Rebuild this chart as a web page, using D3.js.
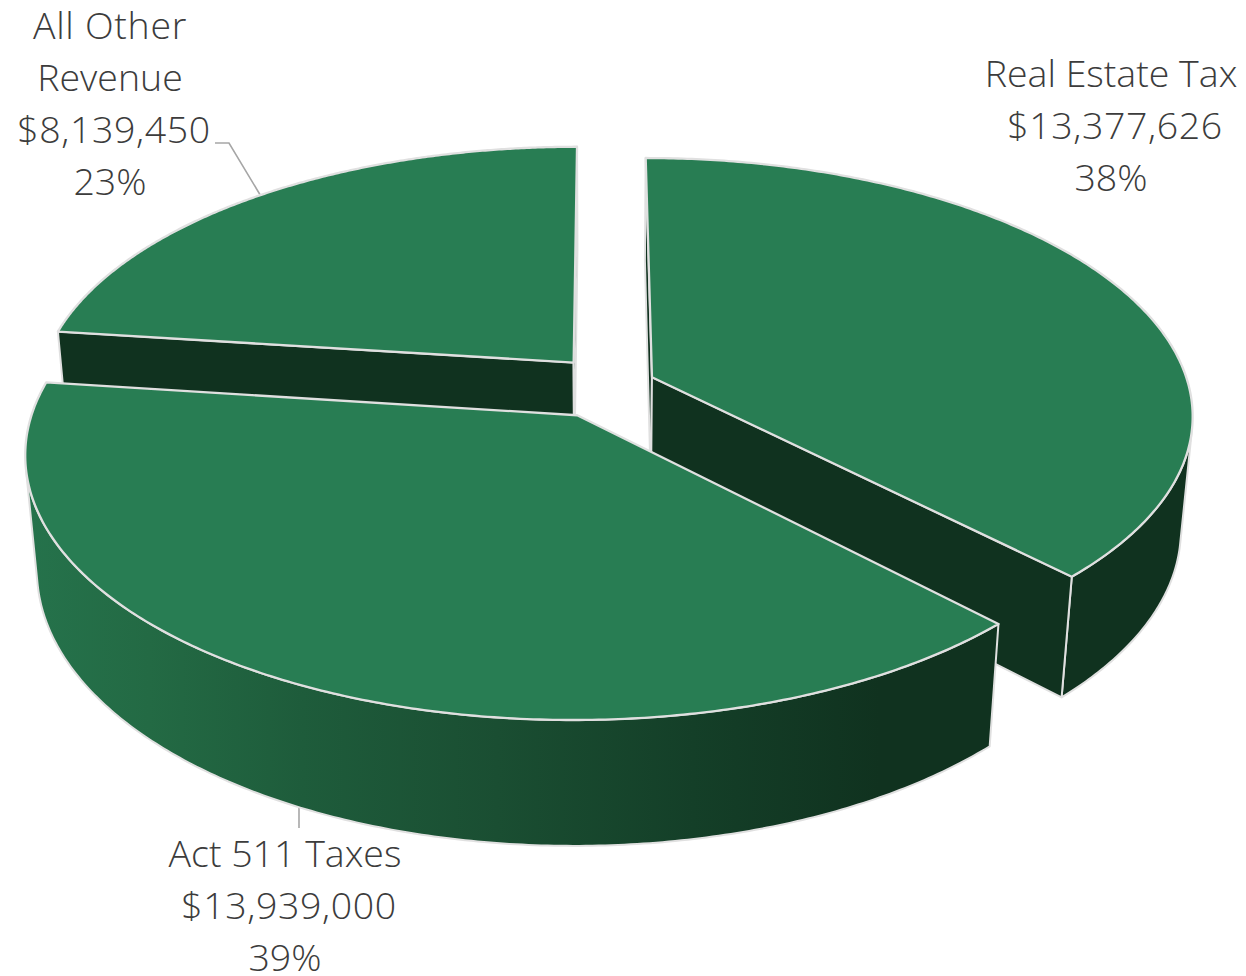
<!DOCTYPE html>
<html>
<head>
<meta charset="utf-8">
<style>
  html, body { margin: 0; padding: 0; background: #fff; }
  svg { display: block; }
  text { font-family: "Open Sans", sans-serif; font-weight: 300; font-size: 37.5px; fill: #3c3c3c; }
</style>
<script src="https://cdn.jsdelivr.net/npm/d3@7/dist/d3.min.js"></script>
</head>
<body>
<svg id="chart" width="1246" height="976"></svg>
<script>
// Revenue sources, clockwise from twelve o'clock.
const categories = ["Real Estate Tax", "Act 511 Taxes", "All Other Revenue"];
const labelLines = [["Real Estate Tax"], ["Act 511 Taxes"], ["All Other", "Revenue"]];
const revenue = [13377626, 13939000, 8139450];

// How far each slice is pulled out of the pie, in pie-radius units (x right, y away from viewer).
const explodeX = [0.095, -0.044, -0.052];
const explodeY = [0.043, -0.106, 0.102];

// Camera of the tilted disc.
const cam = { x0: 601.2, s: 537.5, yv: -1397, A: 1785, p: 0.1418, q: 0.02, depth: 151 };

const topGreen = "#287d53", darkGreen = "#10321f", edge = "#e0e0e0";

// Plane point (px, py) at the top (z = 0) or underside (z = 1) of the disc, to screen.
function project(px, py, z) {
  const w = 1 + cam.p * py + cam.q * z;
  return [cam.x0 + cam.s * px / w, cam.yv + (cam.A + cam.depth * z) / w];
}

const svg = d3.select("#chart");
const line = d3.line();
const total = d3.sum(revenue);
const money = d3.format("$,");
const percent = d3.format(".0%");

const arcs = d3.pie().sort(null).value(d => d)(revenue);

const defs = svg.append("defs");
const grad = defs.append("linearGradient").attr("id", "actSide")
  .attr("gradientUnits", "userSpaceOnUse")
  .attr("x1", 30).attr("x2", 880).attr("y1", 0).attr("y2", 0);
[[0, "#25724b"], [0.14, "#236a44"], [0.32, "#1e5c3b"], [0.55, "#1a4e32"], [0.78, "#143f28"], [1, darkGreen]]
  .forEach(([o, c]) => grad.append("stop").attr("offset", o).attr("stop-color", c));
const sideFill = [darkGreen, "url(#actSide)", darkGreen];

// Leader lines sit beneath the pie and run into its rim.
const leaders = [
  [[215, 143], [229, 143], [262, 198]],
  [[299, 800], [299, 828]]
];
svg.selectAll("path.leader").data(leaders).join("path")
  .attr("class", "leader")
  .attr("d", d => line(d))
  .attr("fill", "none")
  .attr("stroke", "#a6a6a6")
  .attr("stroke-width", 1.6);

// Paint far slices first so the nearest one overlaps the others.
const paintOrder = [2, 0, 1];
const steps = 240;

paintOrder.forEach(i => {
  const a = arcs[i];
  const ox = explodeX[i], oy = explodeY[i];
  const rim = (t, z) => project(ox + Math.sin(t), oy + Math.cos(t), z);
  const apex = z => project(ox, oy, z);
  const angles = d3.range(steps + 1).map(k => a.startAngle + (a.endAngle - a.startAngle) * k / steps);
  const g = svg.append("g").attr("class", "slice").attr("data-name", categories[i]);

  // Only the part of the rim wall that faces the viewer is drawn.
  const facing = angles.filter(t => {
    const T = rim(t, 0), N = rim(t + 1e-3, 0), B = rim(t, 1);
    return (N[0] - T[0]) * (B[1] - T[1]) - (N[1] - T[1]) * (B[0] - T[0]) < 0;
  });
  if (facing.length > 1) {
    const wall = facing.map(t => rim(t, 0)).concat(facing.slice().reverse().map(t => rim(t, 1)));
    g.append("path").attr("d", line(wall) + "Z")
      .attr("fill", sideFill[i])
      .attr("stroke", edge).attr("stroke-width", 2).attr("stroke-linejoin", "round");
  }

  // Cut faces along both radii; a face turned away from the viewer is skipped.
  [[a.startAngle, 1], [a.endAngle, -1]].forEach(([t, side]) => {
    const face = [apex(0), rim(t, 0), rim(t, 1), apex(1)];
    if (d3.polygonArea(face) * side <= 0) return;
    g.append("path").attr("d", line(face) + "Z")
      .attr("fill", darkGreen)
      .attr("stroke", edge).attr("stroke-width", 2).attr("stroke-linejoin", "round");
  });

  // Top surface.
  const top = [apex(0)].concat(angles.map(t => rim(t, 0)));
  g.append("path").attr("d", line(top) + "Z")
    .attr("fill", topGreen)
    .attr("stroke", edge).attr("stroke-width", 2.3).attr("stroke-linejoin", "round");
});

// Data labels: category, amount, share of total.
const labelX = [1111, 285, 110];
const labelTop = [87, 867, 39];
const lineGap = 52;

arcs.forEach((a, i) => {
  const rows = labelLines[i].concat([money(revenue[i]), percent(revenue[i] / total)]);
  svg.append("g").attr("class", "label").selectAll("text").data(rows).join("text")
    .attr("x", d => labelX[i] + (d.startsWith("$") ? 4 : 0))
    .attr("y", (d, k) => labelTop[i] + k * lineGap)
    .attr("text-anchor", "middle")
    .attr("letter-spacing", d => d.startsWith("$") ? 0.6 : d === "All Other" ? 0.7 : 0)
    .text(d => d);
});
</script>
</body>
</html>
